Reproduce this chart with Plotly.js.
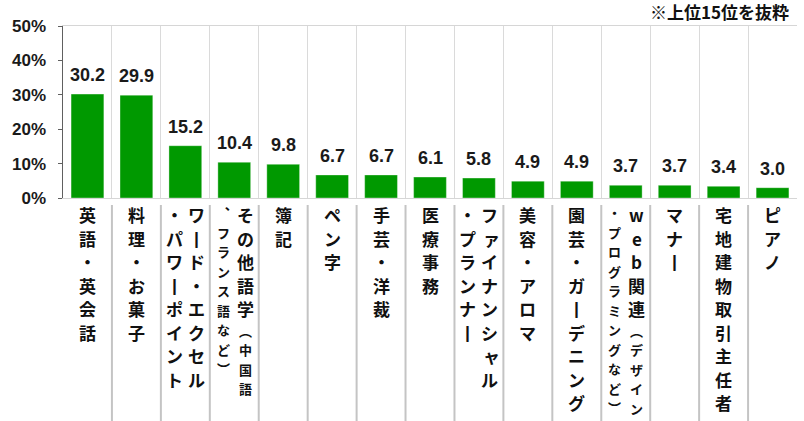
<!DOCTYPE html>
<html>
<head>
<meta charset="utf-8">
<script src="https://cdn.plot.ly/plotly-3.0.1.min.js"></script>
<style>html,body{margin:0;padding:0;background:#fff;}#chart{width:804px;height:421px;}</style>
</head>
<body>
<div id="chart"></div>
<script>
// ---- data ----
var labels = [
  "英語・英会話",
  "料理・お菓子",
  "ワード・エクセル\n・パワーポイント",
  "その他語学（中国語\n、フランス語など）",
  "簿記",
  "ペン字",
  "手芸・洋裁",
  "医療事務",
  "ファイナンシャル\n・プランナー",
  "美容・アロマ",
  "園芸・ガーデニング",
  "web関連（デザイン\n・プログラミングなど）",
  "マナー",
  "宅地建物取引主任者",
  "ピアノ"
];
var values = [30.2, 29.9, 15.2, 10.4, 9.8, 6.7, 6.7, 6.1, 5.8, 4.9, 4.9, 3.7, 3.7, 3.4, 3.0];
var yTickVals = [0, 10, 20, 30, 40, 50];
var yTickText = ["0%", "10%", "20%", "30%", "40%", "50%"];
var note = "※上位15位を抜粋";

// ---- layout constants ----
var W = 804, H = 421;
var M = {l: 63, r: 7, t: 26, b: 223};
var plotH = H - M.t - M.b;
var jpFont = "Noto Sans CJK JP";
var numFont = "Liberation Sans, Arial, sans-serif";

var cats = labels.map(function (s) { return s.replace("\n", ""); });

// vertical presentation forms
var vertMap = {"ー": "丨", "（": "︵", "）": "︶", "、": "︑"};
var smallKana = "ァィゥェォャュョッ";

var annotations = [];

// value labels
cats.forEach(function (c, i) {
  annotations.push({
    x: c, y: values[i], xref: "x", yref: "y",
    text: values[i].toFixed(1), showarrow: false,
    yanchor: "bottom", yshift: 7,
    font: {family: numFont, size: 18, color: "#1a1a1a", weight: 700}
  });
});

// vertical category labels
var BIG = 23.5, SMALL = 19.5, COLW = 22, TOP = 5;
labels.forEach(function (lab, i) {
  var cols = lab.split("\n");
  var inParen = false;
  cols.forEach(function (col, j) {
    var xs = ((cols.length - 1) / 2 - j) * COLW;
    var y = TOP;
    Array.from(col).forEach(function (ch) {
      if (ch === "（") inParen = true;
      var small = inParen;
      var adv = small ? SMALL : BIG;
      var center = y + adv / 2;
      var dx = smallKana.indexOf(ch) >= 0 ? 2 : 0;
      annotations.push({
        x: cats[i], y: 0, xref: "x", yref: "paper",
        text: vertMap[ch] || ch, showarrow: false,
        xanchor: "center", yanchor: "middle",
        xshift: xs + dx, yshift: -center,
        font: {family: jpFont, size: small ? 13 : 17, color: "#111", weight: 700}
      });
      y += adv;
      if (ch === "）") inParen = false;
    });
  });
});

// note
annotations.push({
  x: 1, y: 1, xref: "paper", yref: "paper",
  text: note, showarrow: false, xanchor: "right", yanchor: "middle",
  xshift: -6, yshift: 15,
  font: {family: jpFont, size: 17, color: "#111", weight: 700}
});

// separators below axis
var shapes = [];
for (var k = 1; k < cats.length; k++) {
  shapes.push({
    type: "line", xref: "x", yref: "paper",
    x0: k - 0.5, x1: k - 0.5, y0: -7 / plotH, y1: -(M.b + 5) / plotH,
    line: {color: "#c4c4c4", width: 2}
  });
}

var trace = {
  type: "bar", x: cats, y: values,
  marker: {color: "#009900", line: {color: "rgba(255,255,255,0.35)", width: 1}},
  hoverinfo: "skip"
};

var layout = {
  width: W, height: H,
  margin: M,
  paper_bgcolor: "#fff", plot_bgcolor: "#fff",
  showlegend: false,
  bargap: 0.33,
  xaxis: {
    type: "category", range: [-0.5, cats.length - 0.5],
    tickson: "boundaries", ticks: "", showticklabels: false,
    showgrid: true, gridcolor: "#dadada", gridwidth: 1,
    showline: true, linecolor: "#d6d6d6", linewidth: 1, mirror: true,
    zeroline: false, fixedrange: true
  },
  yaxis: {
    range: [0, 50], tickmode: "array", tickvals: yTickVals, ticktext: yTickText,
    showgrid: false, zeroline: false,
    showline: true, linecolor: "#606060", linewidth: 1.5,
    ticks: "outside", ticklen: 4, tickcolor: "#606060",
    tickfont: {family: numFont, size: 17, color: "#1a1a1a", weight: 700},
    ticklabelstandoff: 8, fixedrange: true
  },
  annotations: annotations,
  shapes: shapes
};

Plotly.newPlot("chart", [trace], layout, {displayModeBar: false, staticPlot: true});
</script>
</body>
</html>
